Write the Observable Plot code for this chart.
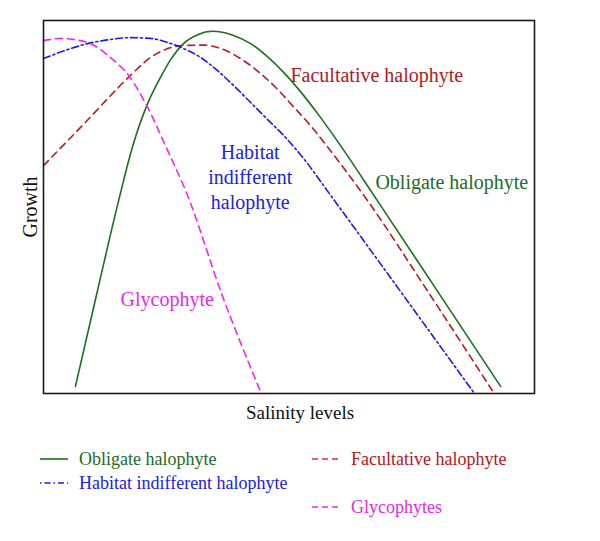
<!DOCTYPE html>
<html>
<head>
<meta charset="utf-8">
<script src="https://cdn.jsdelivr.net/npm/d3@7"></script>
<script src="https://cdn.jsdelivr.net/npm/@observablehq/plot@0.6"></script>
<style>
  html, body { margin: 0; padding: 0; background: #fff; }
  #wrap { position: relative; width: 600px; height: 541px; font-family: "Liberation Serif", "DejaVu Serif", serif; }
  #chart { position: absolute; left: 0; top: 0; }
  .leg { position: absolute; font-size: 18px; line-height: 20px; white-space: nowrap; display: flex; align-items: center; }
  .leg svg { margin-right: 11px; }
</style>
</head>
<body>
<div id="wrap">
  <div id="chart"></div>
  <div id="legend"></div>
</div>
<script>
// Growth (0-100) vs salinity level (0-100)
const obligate = [[6.5,1.9],[11.0,27.6],[15.3,51.7],[18.1,66.0],[21.2,77.7],[23.8,84.7],[25.9,89.5],[28.5,93.8],[31.4,96.2],[34.4,97.1],[38.7,96.0],[42.2,93.8],[45.6,90.3],[48.9,86.1],[52.3,81.0],[55.8,75.1],[59.9,67.6],[68.0,51.7],[80.4,27.1],[93.1,1.9]];
const facultative = [[0,61.1],[8.1,72.1],[17.5,85.0],[21.8,90.1],[24.4,92.0],[28.5,93.3],[32.6,93.4],[36.7,92.2],[40.7,89.3],[44.2,85.8],[47.7,81.5],[50.9,76.9],[54.4,71.8],[57.8,66.2],[66.0,51.7],[78.8,26.3],[91.4,0.8]];
const habitat = [[0,89.8],[4.9,92.2],[9.6,94.0],[13.6,94.9],[17.7,95.4],[21.8,95.2],[25.3,94.1],[28.5,92.5],[32.0,90.1],[35.4,86.6],[38.7,82.6],[42.2,78.0],[45.6,73.5],[48.9,69.2],[52.3,64.1],[59.1,52.0],[73.3,26.3],[87.6,0.3]];
const glycophyte = [[0,94.6],[3.5,95.2],[6.1,94.9],[9.6,93.8],[13.6,90.1],[17.5,85.0],[21.2,76.7],[25.3,65.1],[29.1,53.9],[36.4,26.3],[44.2,0.5]];

const seriesNames = ["Obligate halophyte", "Facultative halophyte", "Habitat indifferent halophyte", "Glycophytes"];
const lineColors = ["#1f6e1f", "#b51d22", "#1c1ce0", "#ec2aec"];
const textColors = ["#236b23", "#b0191e", "#2222d6", "#e02ee0"];
const legendSwatchColors = ["#1f6e1f", "#e0246c", "#1c1ce0", "#ec2aec"];
const dashes = [null, "7,5", "7,3,2,3", "7,5"];

// in-plot annotations: [text, x, y, anchor, colour index]
const annotations = [
  ["Facultative halophyte", 50.3, 85.6, "start", 1],
  ["Obligate halophyte", 67.6, 57.1, "start", 0],
  ["Habitat\nindifferent\nhalophyte", 42.1, 58.4, "middle", 2],
  ["Glycophyte", 25.2, 25.7, "middle", 3]
];
const xLabel = "Salinity levels";
const yLabel = "Growth";

const curves = [obligate, facultative, habitat, glycophyte];

const marks = [];
curves.forEach((c, i) => {
  marks.push(Plot.line(c, {
    x: d => d[0], y: d => d[1],
    stroke: lineColors[i], strokeWidth: 1.6,
    strokeDasharray: dashes[i] ?? undefined,
    curve: "monotone-x"
  }));
});
marks.push(Plot.frame({stroke: "#1a1a1a", strokeWidth: 1.6}));
annotations.forEach(a => {
  marks.push(Plot.text([a], {
    x: d => d[1], y: d => d[2], text: d => d[0],
    textAnchor: a[3], lineAnchor: "middle", lineHeight: 1.25,
    fontSize: 20, fill: textColors[a[4]]
  }));
});
marks.push(Plot.text([yLabel], {
  text: d => d, frameAnchor: "left", rotate: -90, dx: -13,
  textAnchor: "middle", lineAnchor: "middle", fontSize: 20, fill: "#111"
}));
marks.push(Plot.text([xLabel], {
  text: d => d, frameAnchor: "bottom", dy: 19, dx: 11,
  textAnchor: "middle", lineAnchor: "middle", fontSize: 19, fill: "#111"
}));

const chart = Plot.plot({
  width: 600, height: 430,
  marginLeft: 43, marginRight: 66, marginTop: 20, marginBottom: 37,
  x: {domain: [0, 100], axis: null},
  y: {domain: [0, 100], axis: null},
  style: {fontFamily: "'Liberation Serif', 'DejaVu Serif', serif", background: "#fff", overflow: "visible"},
  marks
});
document.getElementById("chart").appendChild(chart);

// legend (HTML below the plot)
const legendPos = [[40, 459], [312, 459], [40, 483], [312, 507]];
const legend = document.getElementById("legend");
seriesNames.forEach((name, i) => {
  const div = document.createElement("div");
  div.className = "leg";
  div.style.left = legendPos[i][0] + "px";
  div.style.top = (legendPos[i][1] - 10) + "px";
  div.style.color = textColors[i];
  const dash = i === 2 ? "1.5,3,6,3" : (dashes[i] ? "6,4" : "");
  div.innerHTML = `<svg width="28" height="20"><line x1="0" x2="28" y1="10" y2="10" stroke="${legendSwatchColors[i]}" stroke-width="1.6" ${dash ? `stroke-dasharray="${dash}"` : ""}/></svg><span>${name}</span>`;
  legend.appendChild(div);
});
</script>
</body>
</html>
